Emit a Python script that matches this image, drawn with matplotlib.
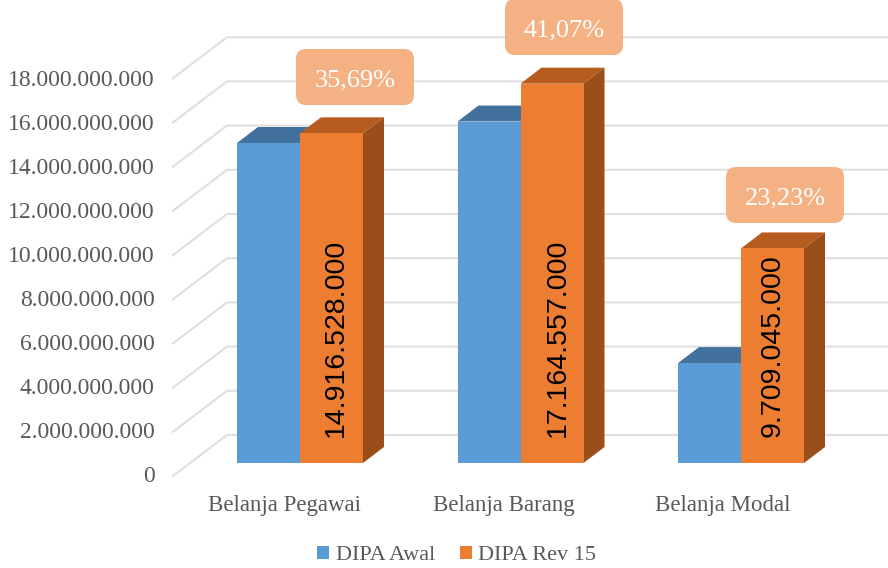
import matplotlib.pyplot as plt
from matplotlib.patches import FancyBboxPatch, Polygon

# Data
categories = ['Belanja Pegawai', 'Belanja Barang', 'Belanja Modal']
dipa_awal = [14480000000, 15450000000, 4520000000]
dipa_rev15 = [14916528000, 17164557000, 9709045000]
rev_labels = ['14.916.528.000', '17.164.557.000', '9.709.045.000']
growth_labels = ['35,69%', '41,07%', '23,23%']
y_ticks = [0, 2e9, 4e9, 6e9, 8e9, 10e9, 12e9, 14e9, 16e9, 18e9]

# Scale: pixels per unit on each axis
PX_X = 220.5
PX_Y = 22.1 / 1e9
X0, Y0 = 300, 463  # pixel of category 0 / value 0
W, H = 888, 568


def dx(px):
    return px / PX_X


def dy(px):
    return px / PX_Y


BAR_W = dx(63)
DEPTH_X, DEPTH_Y = dx(21), dy(16)
SERIF = 'Liberation Serif'
GREY = '#595959'

fig = plt.figure(figsize=(W / 100, H / 100), dpi=100)
ax = fig.add_axes([0, 0, 1, 1])
ax.set_xlim(-X0 / PX_X, (W - X0) / PX_X)
ax.set_ylim((Y0 - H) / PX_Y, Y0 / PX_Y)
ax.axis('off')

# Walls: each gridline runs up the side wall then along the back
x_front, x_back, x_end = dx(173 - X0), dx(227 - X0), dx(W - X0)
for v in y_ticks:
    ax.plot([x_front, x_back, x_end], [v - dy(13), v + dy(28), v + dy(28)],
            color='#DFDFDF', lw=1.5, zorder=1, solid_joinstyle='miter')
    ax.text(dx(154.5 - X0), v * 0.995 - dy(13.5), f'{int(v):,}'.replace(',', '.'),
            ha='right', va='center', family=SERIF, fontsize=17, color=GREY)


def bar_3d(x, value, top, side, z):
    ax.add_patch(Polygon([(x, value), (x + DEPTH_X, value + DEPTH_Y),
                          (x + BAR_W + DEPTH_X, value + DEPTH_Y), (x + BAR_W, value)],
                         color=top, lw=0, zorder=z))
    ax.add_patch(Polygon([(x + BAR_W, 0), (x + BAR_W + DEPTH_X, DEPTH_Y),
                          (x + BAR_W + DEPTH_X, value + DEPTH_Y), (x + BAR_W, value)],
                         color=side, lw=0, zorder=z))


# Bars
for i in range(3):
    bar_3d(i - BAR_W, dipa_awal[i], '#41719C', '#41719C', 2)
    bar_3d(i, dipa_rev15[i], '#B65C1E', '#9A4F1B', 3)
xs = list(range(3))
ax.bar([x - BAR_W for x in xs], dipa_awal, width=BAR_W, align='edge', color='#5B9BD5',
       label='DIPA Awal', zorder=2.5)
ax.bar(xs, dipa_rev15, width=BAR_W, align='edge', color='#ED7D31',
       label='DIPA Rev 15', zorder=3.5)

# Value labels inside the orange bars
label_shift = [4, 6, 0]
for i, lab in enumerate(rev_labels):
    ax.text(i + BAR_W / 2 + dx(label_shift[i]), dy(26), lab, rotation=90, ha='center', va='bottom',
            family='Liberation Sans', fontsize=20.5, color='black', zorder=5)

# Callouts
box_x = [dx(296 - X0), dx(505 - X0), dx(726 - X0)]
box_y = [dy(Y0 - 105), dy(Y0 - 55), dy(Y0 - 223)]
for x, y, lab in zip(box_x, box_y, growth_labels):
    ax.add_patch(FancyBboxPatch((x, y), dx(118), dy(56),
                                boxstyle=f'round,pad=0,rounding_size={dx(10)}',
                                mutation_aspect=dy(1) / dx(1), fc='#F4B183', ec='none', zorder=6))
    ax.text(x + dx(59), y + dy(25), lab, ha='center', va='center', family=SERIF,
            fontsize=19, color='white', zorder=7)

# Category labels
for i, lab in enumerate(categories):
    ax.text(i - dx(16 + i), dy(Y0 - 505), lab, ha='center', va='center', family=SERIF,
            fontsize=16.5, color=GREY)

ax.legend(loc='lower center', bbox_to_anchor=(0.5146, -0.03), ncol=2, frameon=False,
          prop={'family': SERIF, 'size': 16}, labelcolor=GREY, handlelength=0.54,
          handleheight=0.54, handletextpad=0.3, columnspacing=1.1)

fig.savefig('out.png', dpi=100)
